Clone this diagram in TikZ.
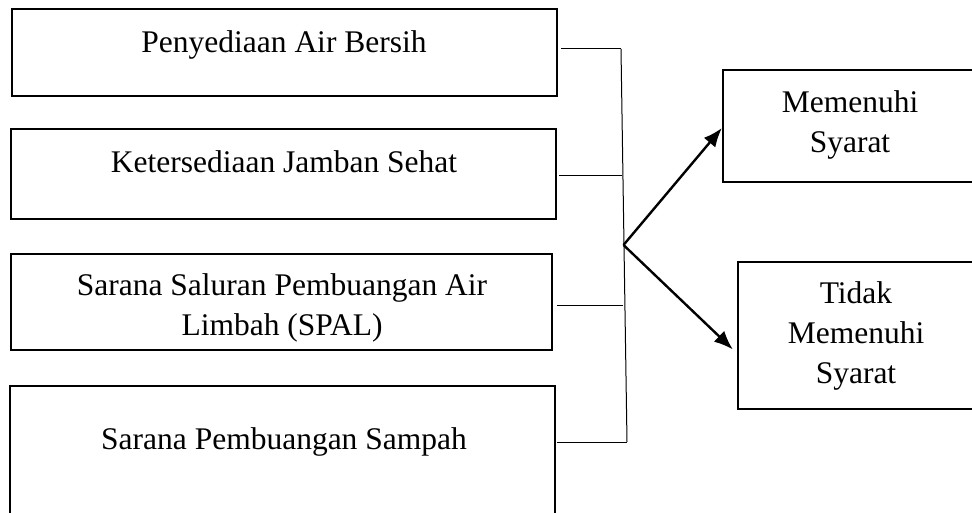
\documentclass[tikz,border=0pt]{standalone}
\usepackage{fontspec}
\setmainfont{Liberation Serif}
\usetikzlibrary{arrows.meta}
\begin{document}
\begin{tikzpicture}[x=1pt,y=-1pt,
  boxst/.style={draw=black, line width=2.2pt, rectangle, inner sep=0pt},
  txt/.style={inner sep=0pt, font=\fontsize{31.5}{40}\selectfont, align=center},
  link/.style={draw=black, line width=1pt},
  arr/.style={draw=black, line width=2.4pt, -{Latex[length=19pt,width=15pt]}}]
\useasboundingbox (0,0) rectangle (972,513);
\clip (0,0) rectangle (972,513);
\fill[white] (0,0) rectangle (972,513);
% left boxes
\node[boxst, minimum width=545pt, minimum height=87pt]  (b1) at (284.5,52.5) {};
\node[boxst, minimum width=545pt, minimum height=90pt]  (b2) at (283.5,174) {};
\node[boxst, minimum width=541pt, minimum height=96pt]  (b3) at (281.5,302) {};
\node[boxst, minimum width=545pt, minimum height=154pt] (b4) at (282.5,463) {};
% right boxes
\node[boxst, minimum width=277pt, minimum height=112pt] (r1) at (861.5,126) {};
\node[boxst, minimum width=262pt, minimum height=147pt] (r2) at (869,335.5) {};
% texts
\node[txt, anchor=base] (t1) at (284,53) {Penyediaan Air Bersih};
\node[txt, anchor=base] (t2) at (284,173) {Ketersediaan Jamban Sehat};
\node[txt] (t3) at (282,307.6) {Sarana Saluran Pembuangan Air\\Limbah (SPAL)};
\node[txt, anchor=base] (t4) at (284,449) {Sarana Pembuangan Sampah};
\node[txt] (t5) at (850,124.8) {Memenuhi\\Syarat};
\node[txt] (t6) at (856,335.8) {Tidak\\Memenuhi\\Syarat};
% junctions on the collector line
\coordinate (j1) at (621,49);
\coordinate (j2) at (622.3,176);
\coordinate (j3) at (623.3,305);
\coordinate (j4) at (627,442);
\coordinate (o) at (623.5,245);
\draw[link] (j1) -- (j4);
\draw[link] ([xshift=3pt]b1.east |- j1) -- (j1);
\draw[link] ([xshift=2pt]b2.east |- j2) -- (j2);
\draw[link] ([xshift=4pt]b3.east |- j3) -- (j3);
\draw[link] ([xshift=1pt]b4.east |- j4) -- (j4);
% arrows
\draw[arr] (o) -- ([yshift=-2pt]r1.west);
\draw[arr] (o) -- ([shift={(-4pt,-14pt)}]r2.west);
\end{tikzpicture}
\end{document}
